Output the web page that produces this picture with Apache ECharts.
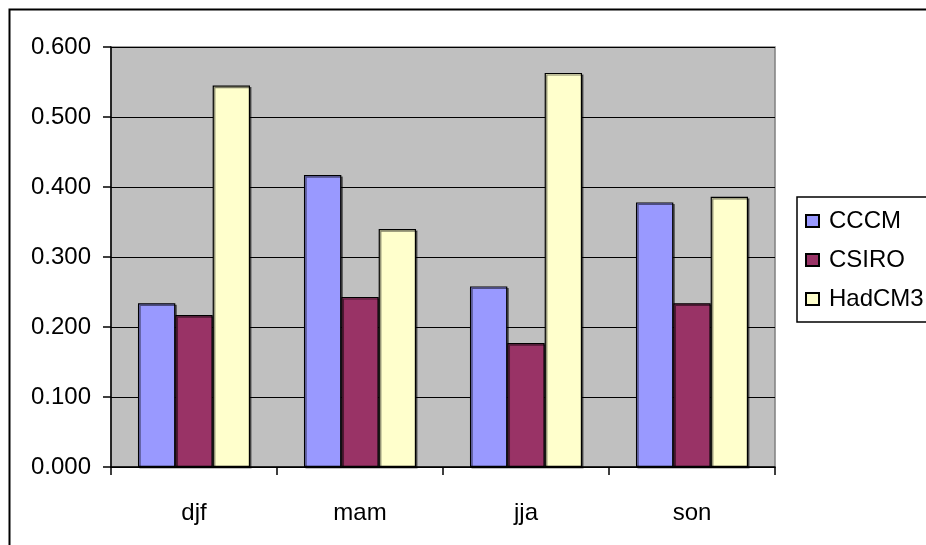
<!DOCTYPE html>
<html>
<head>
<meta charset="utf-8">
<script src="https://cdn.jsdelivr.net/npm/echarts@6/dist/echarts.min.js"></script>
<style>
html,body{margin:0;padding:0;background:#fff;}
#chart{width:926px;height:545px;}
</style>
</head>
<body>
<div id="chart"></div>
<script>
const categories = ['djf', 'mam', 'jja', 'son'];
const seriesNames = ['CCCM', 'CSIRO', 'HadCM3'];
const cccm = [0.234, 0.417, 0.258, 0.378];
const csiro = [0.217, 0.243, 0.177, 0.234];
const hadcm3 = [0.545, 0.340, 0.563, 0.386];
const colors = ['#9999FF', '#993366', '#FFFFCC'];
const yTicks = { min: 0, max: 0.6, interval: 0.1 };

const FONT = '"Liberation Sans", Arial, sans-serif';
const chart = echarts.init(document.getElementById('chart'), null, { renderer: 'canvas' });

function mk(name, data, color) {
  return {
    name: name,
    type: 'bar',
    data: data,
    barGap: '0%',
    barCategoryGap: '32.5%',
    itemStyle: {
      color: color,
      borderColor: '#000',
      borderWidth: 1.2,
      shadowColor: 'rgba(0,0,0,0.5)',
      shadowOffsetX: 1.5,
      shadowOffsetY: 1.5,
      shadowBlur: 0
    },
    emphasis: { disabled: true },
    animation: false
  };
}

chart.setOption({
  animation: false,
  backgroundColor: '#fff',
  textStyle: { fontFamily: FONT },
  graphic: [
    { type: 'rect', left: 7, top: 7, shape: { x: 0, y: 0, width: 1000, height: 1000 },
      style: { fill: 'none', stroke: '#000', lineWidth: 2 }, z: 100 },
    { type: 'rect', shape: { x: 797, y: 197, width: 200, height: 125 },
      style: { fill: '#fff', stroke: '#000', lineWidth: 1.5 }, z: 0 }
  ],
  grid: {
    left: 111, top: 47, right: 151, bottom: 78,
    show: true, backgroundColor: '#C0C0C0', borderColor: '#808080', borderWidth: 1.5
  },
  legend: {
    orient: 'vertical',
    left: 805, top: 209,
    itemWidth: 13, itemHeight: 12,
    itemGap: 15,
    icon: 'rect',
    textStyle: { fontSize: 24, color: '#000', fontFamily: FONT, padding: [0, 0, 0, 5] },
    padding: 0,
    data: seriesNames,
    selectedMode: false,
    z: 10
  },
  xAxis: {
    type: 'category',
    data: categories,
    axisLine: { lineStyle: { color: '#000', width: 1.5 } },
    axisTick: { show: true, length: 8, lineStyle: { color: '#000', width: 1.5 } },
    axisLabel: { fontSize: 24, color: '#000', margin: 34, fontFamily: FONT },
    splitLine: { show: false }
  },
  yAxis: {
    type: 'value',
    min: yTicks.min, max: yTicks.max, interval: yTicks.interval,
    axisLine: { show: true, lineStyle: { color: '#000', width: 1.5 } },
    axisTick: { show: true, length: 8, lineStyle: { color: '#000', width: 1.5 } },
    axisLabel: { fontSize: 24, color: '#000', margin: 20, fontFamily: FONT,
      formatter: v => v.toFixed(3) },
    splitLine: { show: true, lineStyle: { color: '#000', width: 1.2 } }
  },
  series: [
    mk(seriesNames[0], cccm, colors[0]),
    mk(seriesNames[1], csiro, colors[1]),
    mk(seriesNames[2], hadcm3, colors[2])
  ]
});
</script>
</body>
</html>
